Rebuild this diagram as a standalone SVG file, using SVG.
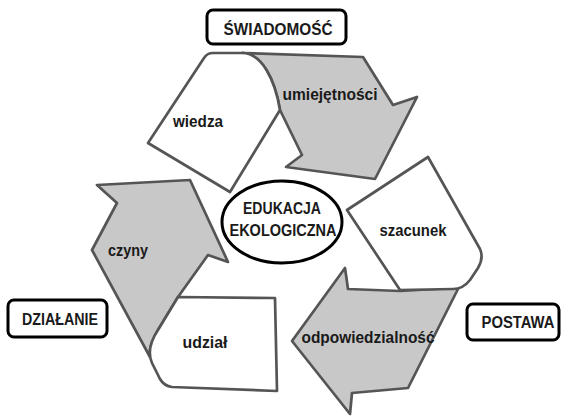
<svg xmlns="http://www.w3.org/2000/svg" width="561" height="417" viewBox="0 0 561 417">
<style>
.g{fill:#c8c8c8;stroke:#555555;stroke-width:2.7;stroke-linejoin:round}
.w{fill:#ffffff;stroke:#555555;stroke-width:2.7;stroke-linejoin:round}
.box{fill:#ffffff;stroke:#000000;stroke-width:3}
.t{font-family:"Liberation Sans",Arial,sans-serif;font-weight:bold;font-size:16px;fill:#1a1a1a;text-anchor:middle}
</style>
<rect width="561" height="417" fill="#ffffff"/>
<g id="umiejetnosci">
<path class="g" d="M242,53 L363,57 L393,105 L417,97 L375,179 L286,167 L302,155 L280,110 C275,80 262,53 242,53 Z"/>
<text class="t" x="330" y="100" textLength="95" lengthAdjust="spacingAndGlyphs">umiejętności</text>
</g>
<g id="wiedza">
<path class="w" d="M213,53 L242,53 C262,53 275,80 280,110 L230,192 L148,143 L204,58 Q207,53 213,53 Z"/>
<text class="t" x="198" y="127" textLength="50" lengthAdjust="spacingAndGlyphs">wiedza</text>
</g>
<g id="odpowiedzialnosc">
<path class="g" d="M348,289 L400,291 L453,288 Q458,286 461,283 L408,388 L352,393 L350,414 L292,341 L345,268 Z"/>
<text class="t" x="368" y="343" textLength="133" lengthAdjust="spacingAndGlyphs">odpowiedzialność</text>
</g>
<g id="szacunek">
<path class="w" d="M428,157 L480,249 Q484,258 478,268 L470,280 Q463,289 453,289 L400,290 L347,210 Z"/>
<text class="t" x="413" y="236" textLength="67" lengthAdjust="spacingAndGlyphs">szacunek</text>
</g>
<g id="czyny">
<path class="g" d="M97,185 L190,180 L228,262 L208,255 L178,297 L158,330 C151,342 149,352 150,357 L92,250 L117,203 Z"/>
<text class="t" x="128" y="256" textLength="40" lengthAdjust="spacingAndGlyphs">czyny</text>
</g>
<g id="udzial">
<path class="w" d="M178,297 L275,298 L277,391 L172,387 Q164,386 160,379 L152,363 C148,354 150,342 158,330 Z"/>
<text class="t" x="205" y="348" textLength="45" lengthAdjust="spacingAndGlyphs">udział</text>
</g>
<g id="edukacja">
<ellipse cx="282" cy="222" rx="60" ry="41" fill="#ffffff" stroke="#000000" stroke-width="3"/>
<text class="t" x="282" y="214" textLength="78" lengthAdjust="spacingAndGlyphs">EDUKACJA</text>
<text class="t" x="283" y="236" textLength="107" lengthAdjust="spacingAndGlyphs">EKOLOGICZNA</text>
</g>
<g id="swiadomosc">
<rect class="box" x="207" y="10" width="139" height="34" rx="6"/>
<text class="t" x="278" y="35" textLength="109" lengthAdjust="spacingAndGlyphs">ŚWIADOMOŚĆ</text>
</g>
<g id="dzialanie">
<rect class="box" x="8" y="300" width="99" height="37" rx="6"/>
<text class="t" x="60" y="325" textLength="76" lengthAdjust="spacingAndGlyphs">DZIAŁANIE</text>
</g>
<g id="postawa">
<rect class="box" x="467" y="304" width="92" height="36" rx="6"/>
<text class="t" x="518" y="328" textLength="73" lengthAdjust="spacingAndGlyphs">POSTAWA</text>
</g>
<g id="connectors"/>
</svg>
